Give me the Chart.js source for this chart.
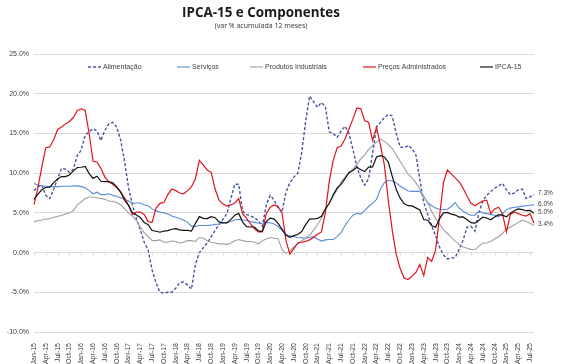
<!DOCTYPE html>
<html>
<head>
<meta charset="utf-8">
<script src="https://cdn.jsdelivr.net/npm/chart.js@4.4.1/dist/chart.umd.min.js"></script>
<style>
  html, body { margin: 0; padding: 0; background: #fff; }
</style>
</head>
<body>
<canvas id="grafico" width="585" height="364"></canvas>
<script>
// meses jan/15 a ago/25
const meses = ["Jan", "Feb", "Mar", "Apr", "May", "Jun", "Jul", "Aug", "Sep", "Oct", "Nov", "Dec"];
const categorias = [];
for (let a = 15; a <= 25; a++) {
  for (let m = 0; m < 12; m++) {
    if (a === 25 && m > 7) break;
    categorias.push(meses[m] + "-" + a);
  }
}

const alimentacao = [
  7.8, 8.3, 8.5, 7.2, 6.8, 8.0, 9.3, 10.6, 10.5, 10.1, 10.5, 12.2,
  12.9, 14.8, 15.2, 15.6, 15.3, 14.1, 15.4, 16.2, 16.4, 15.8, 14.2, 11.5,
  8.2, 6.0, 4.3, 2.9, 1.3, 0.3, -2.2, -3.8, -5.0, -5.1, -5.0, -5.0,
  -4.5, -3.8, -3.7, -4.1, -4.6, -1.5, 0.0, 0.6, 1.2, 2.0, 2.8, 3.5,
  4.2, 4.9, 6.8, 8.6, 8.6, 5.2, 4.8, 4.6, 4.4, 4.0, 3.3, 6.0,
  7.2, 6.6, 5.6, 5.1, 7.6, 8.8, 9.5, 10.0, 12.6, 16.5, 19.7, 19.0,
  18.3, 18.9, 18.4, 15.2, 15.0, 14.5, 15.3, 15.9, 15.0, 13.0, 10.8, 9.4,
  8.5, 9.3, 12.5, 15.8, 16.4, 17.0, 17.4, 17.2, 15.0, 13.3, 13.2, 13.5,
  13.1, 12.3, 9.2, 6.3, 4.8, 3.4, 2.1, 0.7, -0.3, -0.8, -0.7, -0.6,
  0.4, 1.6, 3.2, 3.3, 2.7, 5.0, 6.5, 7.2, 7.7, 8.1, 8.4, 8.7,
  7.9, 7.3, 7.5, 7.9, 8.0, 6.8, 7.0, 7.3
];

const servicos = [
  8.7, 8.5, 8.4, 8.35, 8.3, 8.3, 8.3, 8.35, 8.35, 8.35, 8.4, 8.4,
  8.3, 8.15, 7.8, 7.4, 7.6, 7.3, 7.3, 7.4, 7.2, 7.1, 6.9, 6.7,
  6.5, 6.2, 6.25, 6.25, 6.0, 5.9, 5.5, 5.25, 5.1, 5.0, 4.85, 4.6,
  4.45, 4.3, 4.1, 3.8, 3.3, 3.3, 3.4, 3.4, 3.4, 3.45, 3.55, 3.6,
  3.7, 3.75, 3.9, 4.1, 4.2, 4.1, 4.05, 3.9, 3.8, 3.7, 3.7, 3.8,
  3.75, 3.6, 3.3, 2.8, 2.3, 2.1, 2.0, 1.9, 1.85, 1.8, 1.9, 2.0,
  1.7, 1.45, 1.6, 1.65, 1.65, 2.0, 2.5, 3.4, 4.1, 4.7, 4.95, 4.85,
  5.3, 5.8, 6.2, 6.7, 8.0, 8.8, 9.1, 9.0, 8.8, 8.35, 8.1, 7.75,
  7.7, 7.7, 7.7, 7.0, 6.3, 5.9, 5.6, 5.45, 5.4, 5.45, 5.8, 6.3,
  5.6, 5.2, 4.9, 4.7, 4.7, 5.2, 5.0, 4.9, 4.8, 4.7, 4.5, 4.9,
  5.4, 5.6, 5.7, 5.75, 5.85, 5.9, 5.95, 6.0
];

const produtosIndustriais = [
  3.9, 4.0, 4.1, 4.2, 4.3, 4.45, 4.55, 4.7, 4.85, 5.0, 5.3, 6.0,
  6.4, 6.8, 7.0, 7.0, 6.9, 6.8, 6.7, 6.5, 6.45, 6.3, 6.0, 5.5,
  5.0, 4.6, 4.0, 3.2, 2.5, 2.0, 1.5, 1.5, 1.6, 1.3, 1.3, 1.45,
  1.4, 1.2, 1.3, 1.5, 1.5, 1.4, 1.9, 1.8, 1.5, 1.3, 1.2, 1.1,
  1.1, 1.0, 1.2, 1.5, 1.65, 1.5, 1.4, 1.4, 1.3, 1.1, 1.5, 1.7,
  1.9, 1.8, 1.75, 0.4, -0.1, 0.2, 0.7, 1.1, 1.5, 1.8, 2.2, 2.8,
  3.5, 4.3, 5.3, 6.3, 7.1, 7.9, 8.9, 9.5, 10.1, 10.5, 11.1, 11.8,
  12.3, 13.0, 13.5, 13.9, 14.3, 14.0, 13.6, 13.1, 12.3, 11.5, 10.7, 9.9,
  9.4, 8.8, 8.0, 7.1, 6.2, 5.2, 4.3, 3.6, 2.9, 2.4, 1.9, 1.4,
  1.0, 0.7, 0.55, 0.4, 0.35, 0.8, 1.2, 1.2, 1.4, 1.7, 2.0, 2.4,
  3.0, 3.2, 3.5, 3.8, 4.1, 3.9, 3.7, 3.4
];

const precosAdministrados = [
  6.0, 8.2, 10.8, 13.2, 13.3, 14.2, 15.5, 15.8, 16.2, 16.5, 17.0, 17.9,
  18.1, 17.9, 15.0, 11.5, 11.4, 10.6, 9.5, 8.9, 8.6, 8.2, 7.6, 6.9,
  6.0, 4.8, 5.1, 5.1, 4.8, 3.9, 3.8, 5.6, 6.2, 6.3, 7.3, 8.0,
  7.8, 7.5, 7.4, 7.8, 8.3, 9.3, 11.6, 11.0, 10.4, 10.1, 8.0, 6.6,
  6.1, 5.85, 6.0, 6.25, 6.8, 4.9, 4.3, 3.6, 3.0, 2.6, 2.6, 4.9,
  5.7, 6.0, 5.8, 5.0, 1.5, -0.2, 0.5, 1.2, 1.3, 1.4, 1.6, 1.9,
  2.3, 2.6, 5.0, 9.0, 11.6, 13.2, 13.4, 14.3, 15.6, 16.8, 18.2, 18.1,
  16.6, 16.4, 14.1, 15.8, 13.5, 11.0, 6.5, 2.8, -0.2, -2.0, -3.2, -3.4,
  -3.0, -2.5, -1.5, -2.9, -0.6, -1.1, 0.3, 4.5, 8.8, 10.4, 9.9, 9.4,
  8.9, 8.1, 7.1, 6.2, 5.9, 6.2, 6.5, 6.6, 4.9, 5.5, 5.7, 4.9,
  2.6, 4.8, 5.1, 4.9, 4.7, 4.6, 4.9, 3.7
];

const ipca15 = [
  6.69, 7.36, 7.90, 8.22, 8.24, 8.80, 9.25, 9.57, 9.57, 9.77, 10.28, 10.71,
  10.74, 10.84, 9.95, 9.34, 9.62, 8.98, 8.93, 8.95, 8.78, 8.27, 7.64, 6.58,
  5.94, 5.02, 4.73, 4.41, 3.77, 3.52, 2.78, 2.68, 2.56, 2.71, 2.77, 2.94,
  3.02, 2.86, 2.80, 2.80, 2.70, 3.68, 4.53, 4.30, 4.28, 4.53, 4.39, 3.86,
  3.77, 3.73, 4.18, 4.71, 4.93, 3.84, 3.27, 3.22, 3.22, 2.72, 2.67, 3.91,
  4.34, 4.21, 3.67, 2.92, 2.19, 1.92, 2.13, 2.28, 2.65, 3.52, 4.22, 4.23,
  4.30, 4.57, 5.52, 6.17, 7.27, 8.13, 8.59, 9.30, 10.05, 10.34, 10.73, 10.42,
  10.20, 10.76, 10.79, 12.03, 12.20, 12.04, 11.39, 9.60, 7.96, 6.85, 6.17, 5.90,
  5.87, 5.63, 5.36, 4.16, 4.07, 3.40, 3.19, 4.24, 5.00, 5.05, 4.84, 4.72,
  4.47, 4.49, 4.14, 3.77, 3.70, 4.06, 4.45, 4.35, 4.12, 4.47, 4.77, 4.71,
  4.50, 4.96, 5.26, 5.49, 5.40, 5.27, 5.30, 4.95
];

// rótulos do final das séries
const rotulosFinais = [
  { serie: 0, texto: "7.3%" },
  { serie: 1, texto: "6.0%" },
  { serie: 4, texto: "5.0%" },
  { serie: 2, texto: "3.4%" }
];

const corTexto = "#404040";
const corGrade = "#d9d9d9";

const tituloPlugin = {
  id: "titulo",
  afterDraw(chart) {
    const ctx = chart.ctx;
    ctx.save();
    ctx.fillStyle = "#1a1a1a";
    ctx.textAlign = "center";
    ctx.textBaseline = "middle";
    ctx.font = "bold 14px 'Open Sans'";
    const w = ctx.measureText("IPCA-15 e Componentes").width;
    const tam = 14 * 158 / w;
    ctx.font = "bold " + tam.toFixed(2) + "px 'Open Sans'";
    ctx.fillText("IPCA-15 e Componentes", 261, 13);
    ctx.font = "7px 'Open Sans'";
    ctx.fillStyle = "#333";
    ctx.fillText("(var % acumulada 12 meses)", 261, 26);
    ctx.restore();
  }
};

const legendaPlugin = {
  id: "legendaManual",
  afterDraw(chart) {
    const ctx = chart.ctx;
    const itens = [[0, 88], [1, 177], [2, 250], [3, 363], [4, 480]];
    ctx.save();
    ctx.font = "7px 'Liberation Sans'";
    ctx.textBaseline = "middle";
    ctx.textAlign = "left";
    itens.forEach(([i, x]) => {
      const ds = chart.data.datasets[i];
      ctx.strokeStyle = ds.borderColor;
      ctx.lineWidth = ds.borderWidth;
      ctx.setLineDash(ds.borderDash || []);
      ctx.beginPath();
      ctx.moveTo(x, 67);
      ctx.lineTo(x + 13, 67);
      ctx.stroke();
      ctx.setLineDash([]);
      ctx.fillStyle = corTexto;
      ctx.fillText(ds.label, x + 15, 67);
    });
    ctx.restore();
  }
};

const rotulosPlugin = {
  id: "rotulosFinais",
  afterDatasetsDraw(chart) {
    const ctx = chart.ctx;
    const xs = chart.scales.x;
    const ys = chart.scales.y;
    ctx.save();
    ctx.font = "6.5px 'Liberation Sans'";
    ctx.fillStyle = corTexto;
    ctx.textBaseline = "middle";
    ctx.textAlign = "left";
    rotulosFinais.forEach(r => {
      const dados = chart.data.datasets[r.serie].data;
      const ult = dados.length - 1;
      ctx.fillText(r.texto, xs.getPixelForValue(ult) + 4, ys.getPixelForValue(dados[ult]) - 1);
    });
    // marcas do eixo horizontal no 0%
    const y0 = ys.getPixelForValue(0);
    ctx.strokeStyle = corGrade;
    ctx.lineWidth = 1;
    for (let i = 0; i < categorias.length; i += 3) {
      const x = Math.round(xs.getPixelForValue(i)) + 0.5;
      ctx.beginPath();
      ctx.moveTo(x, y0);
      ctx.lineTo(x, y0 + 3);
      ctx.stroke();
    }
    ctx.restore();
  }
};

new Chart(document.getElementById("grafico"), {
  type: "line",
  data: {
    labels: categorias,
    datasets: [
      { label: "Alimentação", data: alimentacao, borderColor: "#44549e", borderWidth: 1.4, borderDash: [3, 2], order: 5 },
      { label: "Serviços", data: servicos, borderColor: "#5b8bd6", borderWidth: 1.1, order: 4 },
      { label: "Produtos Industriais", data: produtosIndustriais, borderColor: "#a0a0a0", borderWidth: 1.1, order: 3 },
      { label: "Preços Administrados", data: precosAdministrados, borderColor: "#e0141e", borderWidth: 1.2, order: 2 },
      { label: "IPCA-15", data: ipca15, borderColor: "#111111", borderWidth: 1.2, order: 1 }
    ]
  },
  options: {
    responsive: false,
    animation: false,
    layout: { padding: { top: 54, right: 51, left: 0, bottom: 0 } },
    elements: { point: { radius: 0 }, line: { tension: 0, fill: false } },
    plugins: {
      legend: { display: false },
      tooltip: { enabled: false }
    },
    scales: {
      x: {
        offset: false,
        grid: { display: false },
        border: { display: false },
        ticks: {
          autoSkip: false,
          maxRotation: 90,
          minRotation: 90,
          padding: 3,
          color: corTexto,
          font: { size: 7, family: "'Liberation Sans'" },
          callback: (v, i) => (i % 3 === 0 ? categorias[i] : "")
        },
        afterFit: s => { s.height = 32; }
      },
      y: {
        min: -10,
        max: 25,
        border: { display: false },
        grid: { color: corGrade, lineWidth: 1, drawTicks: false },
        ticks: {
          stepSize: 5,
          padding: 5,
          color: corTexto,
          font: { size: 7, family: "'Liberation Sans'" },
          callback: v => v.toFixed(1) + "%"
        },
        afterFit: s => { s.width = 34; }
      }
    }
  },
  plugins: [tituloPlugin, legendaPlugin, rotulosPlugin]
});
</script>
</body>
</html>
